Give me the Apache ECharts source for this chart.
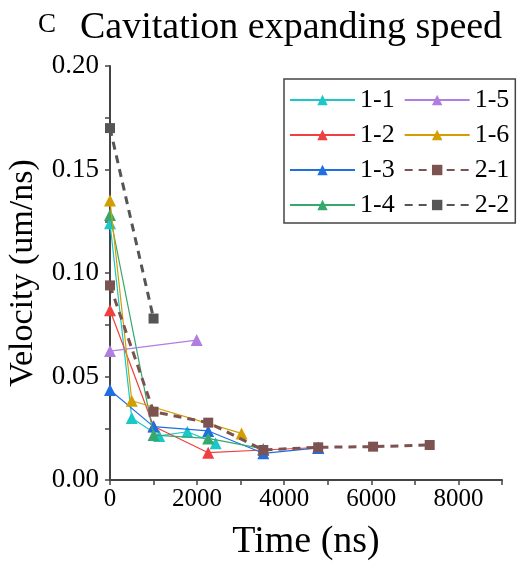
<!DOCTYPE html>
<html>
<head>
<meta charset="utf-8">
<script src="https://cdn.jsdelivr.net/npm/echarts@6/dist/echarts.min.js"></script>
<style>html,body{margin:0;padding:0;background:#fff}#c{width:521px;height:561px}</style>
</head>
<body>
<div id="c"></div>
<script>
var seriesNames = ['1-1','1-2','1-3','1-4','1-5','1-6','2-1','2-2'];
var s11 = [[0,0.124],[500,0.030],[1130,0.0213],[1775,0.0233],[2425,0.0178]];
var s12 = [[0,0.082],[1000,0.026],[2255,0.0132],[3520,0.0145],[4780,0.0157]];
var s13 = [[0,0.0435],[1000,0.0258],[2255,0.0237],[3520,0.0129],[4780,0.0155]];
var s14 = [[0,0.128],[1000,0.0217],[2255,0.0201],[3520,0.0150]];
var s15 = [[0,0.0623],[1990,0.0676]];
var s16 = [[0,0.135],[500,0.0383],[3020,0.0225]];
var s21 = [[0,0.094],[1000,0.033],[2255,0.0277],[3520,0.0145],[4780,0.0158],[6040,0.0161],[7340,0.0169]];
var s22 = [[0,0.170],[1000,0.078]];
var xTicks = [0,2000,4000,6000,8000];
var yTicks = [0.00,0.05,0.10,0.15,0.20];

var colors = ['#1cc7c9','#f03f3f','#1f6fe3','#35a96c','#b07de0','#d39e00','#7c5350','#555555'];
var dataList = [s11,s12,s13,s14,s15,s16,s21,s22];
var FONT = 'Liberation Serif';

var series = dataList.map(function(d, i){
  var dashed = i >= 6;
  return {
    name: seriesNames[i],
    type: 'line',
    data: d,
    symbol: dashed ? 'rect' : 'triangle',
    symbolSize: dashed ? 10 : 12,
    showAllSymbol: true,
    animation: false,
    lineStyle: dashed ? {width: 3, type: [8, 6], color: colors[i]} : {width: 1.2, color: colors[i]},
    itemStyle: {color: colors[i]},
    z: 2 + i
  };
});

var chart = echarts.init(document.getElementById('c'), null, {renderer: 'canvas'});
chart.setOption({
  animation: false,
  backgroundColor: '#fff',
  textStyle: {fontFamily: FONT},
  title: [
    {text: 'C', left: 38, top: 11, padding: 0, textStyle: {fontFamily: FONT, fontSize: 27, fontWeight: 'normal', color: '#000'}},
    {text: 'Cavitation expanding speed', left: 80, top: 9, padding: 0, textStyle: {fontFamily: FONT, fontSize: 38, fontWeight: 'normal', color: '#000'}}
  ],
  legend: {
    orient: 'vertical',
    left: 284, top: 79,
    height: 150,
    padding: [8, 6, 5, 5],
    itemGap: 9,
    itemWidth: 65,
    itemHeight: 13,
    borderColor: '#444',
    borderWidth: 1.5,
    data: seriesNames,
    textStyle: {fontFamily: FONT, fontSize: 26, color: '#000', lineHeight: 25}
  },
  grid: {left: 110, right: 19, top: 66, bottom: 81, containLabel: false, outerBoundsMode: 'none'},
  xAxis: {
    type: 'value', min: 0, max: 9000, interval: 1000,
    name: 'Time (ns)', nameLocation: 'middle', nameGap: 43,
    nameTextStyle: {fontFamily: FONT, fontSize: 38, color: '#000'},
    axisLine: {show: true, lineStyle: {color: '#444', width: 2}},
    axisTick: {show: true, length: 5, lineStyle: {color: '#444', width: 1.5}},
    splitLine: {show: false},
    axisLabel: {
      fontFamily: FONT, fontSize: 25, color: '#000', margin: 7,
      formatter: function(v){ return xTicks.indexOf(v) >= 0 ? '{t|' + v + '}' : ''; },
      rich: {t: {fontFamily: FONT, fontSize: 25, color: '#000'}}
    }
  },
  yAxis: {
    type: 'value', min: 0, max: 0.2, interval: 0.05,
    name: 'Velocity (um/ns)', nameLocation: 'middle', nameGap: 70,
    nameTextStyle: {fontFamily: FONT, fontSize: 34, color: '#000'},
    axisLine: {show: true, lineStyle: {color: '#444', width: 2}},
    axisTick: {show: true, length: 5, lineStyle: {color: '#444', width: 1.5}},
    minorTick: {show: true, splitNumber: 2, length: 5, lineStyle: {color: '#444', width: 1.5}},
    splitLine: {show: false},
    minorSplitLine: {show: false},
    axisLabel: {
      fontFamily: FONT, fontSize: 27, color: '#000', margin: 11,
      formatter: function(v){ return '{t|' + v.toFixed(2) + '}'; },
      rich: {t: {fontFamily: FONT, fontSize: 27, color: '#000'}}
    }
  },
  series: series
});
</script>
</body>
</html>
